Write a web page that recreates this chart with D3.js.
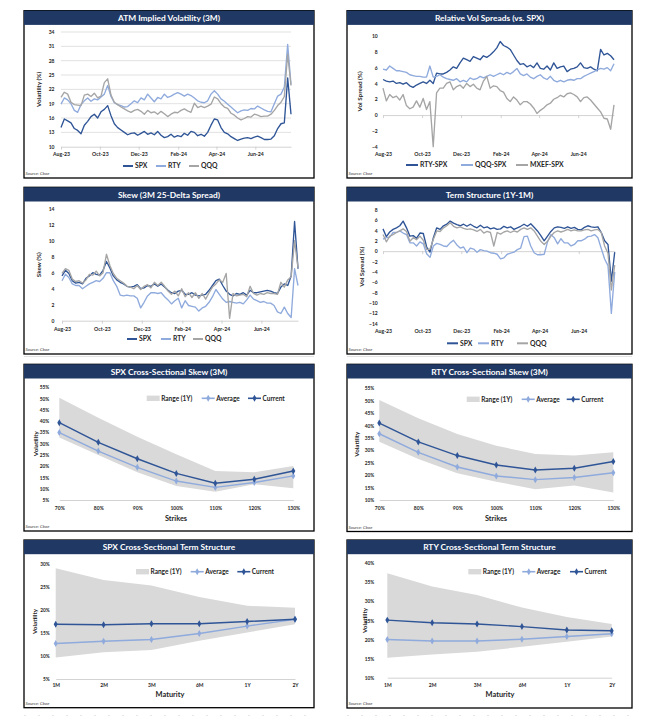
<!DOCTYPE html>
<html><head><meta charset="utf-8">
<script src="https://cdn.jsdelivr.net/npm/d3@7"></script>
<style>body{margin:0;background:#fff;} svg text{font-family:Lato,"Open Sans",sans-serif;}</style>
</head><body><script>
// ---------- DATA ----------
const tickDates = ["2023-08-01","2023-10-01","2023-12-01","2024-02-01","2024-04-01","2024-06-01"];
const dateStart = "2023-08-01", dateEnd = "2024-07-27";

const atmTicks = [10,13,16,19,22,25,28,31,34];
const atmSPX = [14.0,15.8,15.4,15.0,13.8,13.4,12.7,14.5,15.3,16.3,
16.8,16.0,17.3,17.8,18.6,16.5,14.8,14.0,13.5,13.0,
12.5,12.8,12.9,12.4,12.8,13.2,12.6,12.9,12.5,13.2,
12.4,11.9,12.1,12.6,12.0,12.3,12.1,12.8,12.4,13.2,
13.0,12.3,12.6,12.2,13.0,14.5,15.8,15.6,14.0,13.0,
12.7,12.1,11.7,11.3,11.6,11.8,11.9,11.7,12.0,12.2,
11.9,11.5,11.5,11.6,12.3,13.8,14.8,15.0,24.4,16.8];
const atmRTY = [18.9,20.2,19.8,19.0,17.6,17.2,18.8,19.6,20.2,19.5,
20.0,19.8,20.4,21.0,22.8,20.5,19.2,18.8,18.6,18.3,
18.4,19.0,19.6,19.2,20.2,19.8,21.0,20.2,19.4,20.3,
20.0,21.0,20.3,20.6,21.0,21.3,21.0,20.6,21.0,20.7,
20.2,19.6,19.3,19.2,19.6,21.0,21.7,21.0,20.0,19.5,
18.9,18.3,17.7,17.1,17.5,17.7,17.6,18.0,17.9,18.5,
18.1,17.7,17.4,17.3,19.0,20.6,21.0,22.5,31.4,23.0];
const atmQQQ = [20.3,21.4,21.0,19.3,18.8,18.7,18.6,20.8,21.0,20.5,
21.2,20.2,20.6,23.4,24.2,20.8,19.3,18.8,18.3,17.9,
17.5,17.2,17.6,17.8,17.4,16.8,17.6,17.1,17.3,16.8,
17.4,16.9,16.3,16.8,17.2,17.1,17.6,17.9,17.5,17.2,
19.1,18.2,18.5,18.2,18.5,18.9,20.4,20.0,19.0,18.3,
18.0,17.0,16.6,16.0,15.6,15.9,16.3,16.2,16.8,16.6,
16.3,16.4,16.4,16.8,17.6,18.6,19.3,20.5,29.4,22.8];

const rvTicks = [-4,-2,0,2,4,6,8,10];
const rvRTY = [4.5,4.3,4.2,4.3,4.0,4.1,3.9,4.1,3.7,3.5,
3.8,4.0,4.2,4.0,4.4,4.0,5.3,5.2,5.2,5.4,
5.7,6.1,5.9,6.6,7.2,7.0,6.8,7.4,7.2,7.0,
7.5,7.3,7.6,8.0,8.5,9.3,8.8,8.6,8.3,7.6,
6.9,6.4,6.5,6.1,6.3,6.0,6.6,5.9,5.8,6.2,
5.7,6.6,5.9,6.1,6.2,5.5,5.8,5.9,6.1,6.6,
6.0,5.9,6.1,5.8,5.6,8.3,7.6,7.8,7.5,7.0];
const rvQQQ = [5.8,5.7,6.2,5.9,5.6,5.6,5.5,5.4,5.1,5.0,
4.9,4.9,4.8,4.8,6.2,4.8,4.9,5.1,4.8,4.6,
4.5,4.4,4.6,4.2,4.4,4.2,4.7,4.5,4.6,4.9,
4.7,4.9,5.1,4.9,5.1,5.3,5.1,5.4,5.2,5.5,
5.9,5.2,5.0,5.2,4.8,4.6,4.9,5.1,4.7,4.5,
4.9,4.4,4.2,4.4,4.2,4.4,4.5,4.4,4.6,4.6,
4.9,5.1,5.3,5.5,5.7,5.9,5.8,6.0,5.6,6.5];
const rvMXEF = [3.4,1.8,2.6,2.2,2.4,1.9,2.6,1.2,0.8,1.0,
1.8,1.0,2.1,0.7,1.7,-4.0,2.8,3.4,3.4,4.0,
4.2,3.2,3.6,3.8,3.4,4.0,3.6,3.9,3.4,3.2,
4.3,4.9,3.4,3.7,3.6,3.1,2.9,2.1,1.7,2.3,
1.9,1.3,1.7,1.7,1.4,0.9,0.2,0.6,0.9,1.3,
1.5,2.0,2.2,2.5,2.3,2.7,2.8,2.6,2.3,1.7,
2.2,2.3,1.9,1.4,0.9,0.4,-0.4,-0.5,-1.8,1.3];

const skewTicks = [0,2,4,6,8,10,12,14];
const skSPX = [5.6,6.3,5.9,5.0,4.7,4.8,4.6,5.3,5.6,6.0,
5.8,5.7,6.3,7.4,6.6,5.6,5.1,4.8,4.6,4.3,
4.2,4.3,4.5,4.0,4.1,4.4,4.3,4.6,4.3,4.6,
4.2,3.8,3.5,3.4,3.7,3.8,3.3,3.3,3.5,3.2,
3.1,3.2,3.3,3.8,4.4,5.0,5.2,4.4,3.7,3.3,
3.1,3.4,3.3,3.5,3.2,3.8,3.5,3.5,3.6,3.7,
3.8,3.7,3.5,3.4,4.2,4.6,4.4,5.6,12.4,6.5];
const skRTY = [5.0,5.8,5.4,4.6,4.4,4.4,4.0,4.3,4.6,4.8,
5.0,4.9,5.3,6.0,6.0,5.0,4.3,3.2,3.1,3.2,
3.1,3.1,2.8,1.6,2.3,3.1,3.5,3.5,3.4,3.5,
3.0,2.6,2.1,2.5,2.8,1.6,2.5,1.9,1.8,1.7,
1.2,1.6,1.8,2.3,3.0,3.9,3.3,2.7,2.3,2.4,
2.3,2.2,2.3,2.1,2.6,3.2,2.7,2.5,2.3,2.4,
2.2,2.2,1.9,1.1,0.9,1.7,0.9,0.4,6.5,4.4];
const skQQQ = [5.9,6.5,6.3,5.2,4.9,5.0,4.7,5.1,5.8,5.7,
6.2,5.6,6.0,8.3,6.9,5.9,5.3,5.0,4.7,4.3,
4.2,4.0,4.4,3.9,4.3,4.5,4.1,4.8,4.4,4.8,
4.3,3.7,3.3,3.7,3.1,4.0,3.0,3.5,2.9,3.5,
2.8,3.4,2.7,3.5,4.2,4.6,5.1,4.8,5.9,0.3,
3.4,3.1,3.2,3.3,3.0,4.3,3.4,3.2,3.4,3.3,
3.5,3.4,3.4,3.3,4.8,4.2,5.1,5.5,10.0,6.6];

const termTicks = [-14,-12,-10,-8,-6,-4,-2,0,2,4,6,8];
const tsSPX = [4.3,2.8,3.7,4.2,4.5,4.9,5.8,4.5,2.9,3.0,
2.5,3.5,3.4,0.8,-0.2,2.6,4.5,4.2,4.9,5.2,
5.8,5.4,5.1,4.9,5.2,4.8,5.2,4.8,4.5,5.0,
4.5,4.7,4.3,4.5,4.2,4.3,4.8,4.5,4.7,4.2,
4.5,4.8,5.2,4.8,5.3,4.6,3.9,3.0,2.0,2.9,
3.8,4.5,4.7,4.6,4.4,4.7,4.4,4.6,4.2,4.1,
4.6,4.9,4.7,4.6,4.7,3.6,2.0,1.3,-5.8,-0.2];
const tsRTY = [2.3,2.6,2.7,3.6,3.6,3.9,3.5,3.2,1.6,1.6,
1.0,1.8,1.4,-0.5,-1.2,1.0,1.5,1.3,1.0,0.9,
1.6,2.1,1.2,0.6,0.8,-0.3,0.6,0.4,-0.2,0.3,
0.1,0.0,-0.3,-0.4,-0.6,-1.5,-1.3,-0.6,-0.4,-0.2,
0.3,0.6,2.8,2.9,1.0,-0.3,-0.7,-0.7,-0.6,1.8,
3.2,2.6,1.4,2.4,1.6,1.6,1.0,1.3,2.0,2.0,
2.3,2.8,2.9,3.2,2.6,0.5,-1.5,-2.8,-12.0,-4.0];
const tsQQQ = [3.2,1.8,2.9,3.2,3.6,3.9,4.3,3.8,1.9,2.6,
2.2,2.9,2.1,0.3,0.4,2.3,3.9,3.8,4.5,4.9,
5.5,4.8,4.5,4.7,4.4,4.2,4.3,4.1,3.8,4.2,
3.5,3.8,3.6,1.0,3.6,3.3,3.7,3.9,3.6,3.9,
3.7,4.2,4.5,4.2,4.5,3.9,2.9,1.9,1.3,1.9,
2.9,3.6,3.9,3.7,3.9,4.2,3.9,4.1,3.9,3.9,
4.1,4.2,3.9,4.1,4.2,3.6,1.0,-0.4,-7.5,-2.7];

const strikes = ["70%","80%","90%","100%","110%","120%","130%"];
const spxSkewTicks = [5,10,15,20,25,30,35,40,45,50,55];
const spxSkewHigh = [50.4,41.5,33.1,25.3,17.9,17.3,20.1];
const spxSkewLow  = [32.7,25.0,17.3,11.2,8.7,12.0,10.2];
const spxSkewAvg  = [34.9,26.7,19.5,13.4,10.6,12.8,15.7];
const spxSkewCur  = [39.3,30.6,23.3,16.8,12.4,14.2,17.9];
const rtySkewTicks = [10,15,20,25,30,35,40,45,50,55];
const rtySkewHigh = [50.3,42.9,36.6,31.9,28.5,27.9,29.2];
const rtySkewLow  = [33.5,26.5,20.8,17.4,14.3,15.8,13.0];
const rtySkewAvg  = [36.7,29.2,23.3,19.7,18.2,19.1,21.0];
const rtySkewCur  = [41.0,33.4,27.9,24.1,22.1,22.8,25.5];

const maturities = ["1M","2M","3M","6M","1Y","2Y"];
const spxTermTicks = [5,10,15,20,25,30];
const spxTermHigh = [29.1,26.5,25.3,22.8,20.9,20.5];
const spxTermLow  = [9.7,10.8,11.3,13.3,15.1,16.9];
const spxTermAvg  = [12.7,13.2,13.6,14.9,16.5,18.0];
const spxTermCur  = [16.9,16.8,17.0,17.0,17.5,18.0];
const rtyTermTicks = [10,15,20,25,30,35,40];
const rtyTermHigh = [37.4,33.9,31.7,28.4,25.9,24.1];
const rtyTermLow  = [15.2,16.1,16.8,18.1,19.4,20.8];
const rtyTermAvg  = [20.0,19.6,19.6,20.1,20.8,21.5];
const rtyTermCur  = [25.1,24.4,24.1,23.4,22.5,22.3];

// ---------- DRAWING ----------
const C = {dark:"#2F5597", light:"#8FAADC", gray:"#A5A5A5", navy:"#1F3864", band:"#D9D9D9", axis:"#C8C8C8", text:"#262626"};
const svg = d3.select("body").append("svg").attr("width",648).attr("height",722).style("display","block");
svg.append("rect").attr("width",648).attr("height",722).attr("fill","#fff");
const parse = d3.timeParse("%Y-%m-%d");
const T0 = parse(dateStart), T1 = parse(dateEnd);
const fmtDate = d3.timeFormat("%b-%y");

// separators
[[24,314],[347,632]].forEach(([a,b])=>{
  svg.append("line").attr("x1",a).attr("x2",b).attr("y1",356.5).attr("y2",356.5).attr("stroke","#e2e2e2").attr("stroke-width",1);
  svg.append("line").attr("x1",a).attr("x2",b).attr("y1",715.5).attr("y2",715.5).attr("stroke","#e6e6e6").attr("stroke-width",1).attr("stroke-dasharray","2,12");
});

function frame(x0,y0,x1,y1,title){
  svg.append("rect").attr("x",x0).attr("y",y0).attr("width",x1-x0).attr("height",y1-y0)
    .attr("fill","#fff").attr("stroke","#000").attr("stroke-width",1.3);
  svg.append("rect").attr("x",x0).attr("y",y0).attr("width",x1-x0).attr("height",14.2).attr("fill",C.navy);
  svg.append("text").attr("x",(x0+x1)/2).attr("y",y0+10.4).attr("text-anchor","middle")
    .attr("fill","#fff").attr("font-weight","bold").attr("font-size",8.4).text(title);
  svg.append("text").attr("x",x0+1.5).attr("y",y1-2.6).attr("font-size",4.4).attr("font-style","italic")
    .attr("fill","#444").text("Source: Cboe");
}

function styleTicks(sel, size){
  sel.attr("font-family",null).attr("font-size",size).attr("font-weight","bold");
  sel.selectAll("text").attr("fill",C.text);
}

function yTitle(g,x,yc,label){
  g.append("text").attr("transform",`translate(${x},${yc}) rotate(-90)`).attr("text-anchor","middle")
    .attr("dy","0.35em").attr("font-size",6.3).attr("font-weight","bold").attr("fill",C.text).text(label);
}

function timeChart(o){
  const n = o.series[0].values.length;
  const dates = d3.range(n).map(i => new Date(+T0 + (T1 - T0) * i / (n - 1)));
  const x = d3.scaleTime().domain([T0,T1]).range([o.x0,o.x1]);
  const y = d3.scaleLinear().domain(o.yDomain).range([o.yBot,o.yTop]);
  const g = svg.append("g");
  if (o.grid === "all") {
    g.selectAll(null).data(o.yTicks.slice(1)).join("line")
      .attr("x1",o.x0).attr("x2",o.x1).attr("y1",d=>y(d)).attr("y2",d=>y(d))
      .attr("stroke","#D9D9D9").attr("stroke-width",0.8);
  }
  const axisY = y(o.axisAt);
  const ax = g.append("g").attr("transform",`translate(0,${axisY})`)
    .call(d3.axisBottom(x).tickValues(tickDates.map(parse)).tickFormat(fmtDate).tickSize(3).tickSizeOuter(0));
  ax.select(".domain").attr("stroke",C.axis).attr("stroke-width",0.8);
  ax.selectAll(".tick line").attr("stroke",C.axis).attr("stroke-width",0.8);
  styleTicks(ax,5.2);
  ax.selectAll("text").attr("y", o.labelY - axisY).attr("dy","0.35em");
  const ya = g.append("g").attr("transform",`translate(${o.x0 - o.yPad},0)`)
    .call(d3.axisLeft(y).tickValues(o.yTicks).tickSize(0).tickPadding(0));
  ya.select(".domain").remove();
  styleTicks(ya,5.0);
  o.series.forEach(s => {
    g.append("path").datum(s.values).attr("fill","none").attr("stroke",s.color)
      .attr("stroke-width",1.35).attr("stroke-linejoin","round")
      .attr("d", d3.line().x((d,i)=>x(dates[i])).y(d=>y(d)));
  });
  yTitle(g,o.yTitleX,(o.yTop+o.yBot)/2,o.yTitle);
  o.series.forEach(s => {
    g.append("line").attr("x1",s.lx).attr("x2",s.lx+o.legLen).attr("y1",o.legendY).attr("y2",o.legendY)
      .attr("stroke",s.color).attr("stroke-width",2);
    g.append("text").attr("x",s.lx+o.legLen+2).attr("y",o.legendY).attr("dy","0.35em")
      .attr("font-size",6.8).attr("font-weight","bold").attr("fill",C.text).text(s.name);
  });
}

function crossChart(o){
  const x = d3.scalePoint().domain(o.cats).range([o.x0,o.x1]);
  const y = d3.scaleLinear().domain(o.yDomain).range([o.yBot,o.yTop]);
  const g = svg.append("g");
  const rows = o.cats.map((c,i)=>({c, hi:o.high[i], lo:o.low[i], avg:o.avg[i], cur:o.cur[i]}));
  g.append("path").datum(rows).attr("fill",C.band)
    .attr("d", d3.area().x(d=>x(d.c)).y0(d=>y(d.lo)).y1(d=>y(d.hi)));
  const ax = g.append("g").attr("transform",`translate(0,${o.yBot})`)
    .call(d3.axisBottom(x).tickSize(0).tickPadding(0));
  ax.select(".domain").attr("stroke",C.axis).attr("stroke-width",0.8);
  styleTicks(ax,5.0);
  ax.selectAll("text").attr("y", o.labelY - o.yBot).attr("dy","0.35em");
  const ya = g.append("g").attr("transform",`translate(${o.x0 - o.yPad},0)`)
    .call(d3.axisLeft(y).tickValues(o.yTicks).tickSize(0).tickPadding(0).tickFormat(d=>d+"%"));
  ya.select(".domain").remove();
  styleTicks(ya,4.8);
  const sym = d3.symbol(d3.symbolDiamond, 14);
  [["avg",C.light],["cur",C.dark]].forEach(([k,col])=>{
    g.append("path").datum(rows).attr("fill","none").attr("stroke",col).attr("stroke-width",1.45)
      .attr("d", d3.line().x(d=>x(d.c)).y(d=>y(d[k])));
    g.selectAll(null).data(rows).join("path")
      .attr("transform",d=>`translate(${x(d.c)},${y(d[k])})`).attr("d",sym).attr("fill",col);
  });
  yTitle(g,o.yTitleX,(o.yTop+o.yBot)/2,"Volatility");
  g.append("text").attr("x",o.xTitle[0]).attr("y",o.xTitle[1]).attr("dy","0.35em").attr("text-anchor","middle")
    .attr("font-size",7.4).attr("font-weight","bold").attr("fill",C.text).text(o.xLabel);
  // legend
  const ly = o.legendY;
  g.append("rect").attr("x",o.leg[0]).attr("y",ly-2.7).attr("width",13).attr("height",5.4).attr("fill",C.band);
  g.append("text").attr("x",o.leg[0]+14.5).attr("y",ly).attr("dy","0.35em").attr("font-size",6.5)
    .attr("font-weight","bold").attr("fill",C.text).text("Range (1Y)");
  [[o.leg[1],C.light,"Average"],[o.leg[2],C.dark,"Current"]].forEach(([lx,col,name])=>{
    g.append("line").attr("x1",lx).attr("x2",lx+13).attr("y1",ly).attr("y2",ly).attr("stroke",col).attr("stroke-width",1.6);
    g.append("path").attr("transform",`translate(${lx+6.5},${ly})`).attr("d",sym).attr("fill",col);
    g.append("text").attr("x",lx+14.5).attr("y",ly).attr("dy","0.35em").attr("font-size",6.5)
      .attr("font-weight","bold").attr("fill",C.text).text(name);
  });
}

// Panels
frame(24,10.7,314,178,"ATM Implied Volatility (3M)");
timeChart({x0:61,x1:291,yTop:32,yBot:146.7,yDomain:[10,34],yTicks:atmTicks,grid:"all",axisAt:10,labelY:154.3,
  yPad:6.5,yTitleX:39,yTitle:"Volatility (%)",legendY:166,legLen:10,
  series:[{name:"SPX",values:atmSPX,color:C.dark,lx:123},{name:"RTY",values:atmRTY,color:C.light,lx:156},{name:"QQQ",values:atmQQQ,color:C.gray,lx:189}]});

frame(347,10.7,632,178,"Relative Vol Spreads (vs. SPX)");
timeChart({x0:383,x1:614,yTop:36,yBot:146.7,yDomain:[-4,10],yTicks:rvTicks,grid:"zero",axisAt:0,labelY:154.3,
  yPad:5.3,yTitleX:360,yTitle:"Vol Spread (%)",legendY:165,legLen:12,
  series:[{name:"RTY-SPX",values:rvRTY,color:C.dark,lx:406},{name:"QQQ-SPX",values:rvQQQ,color:C.light,lx:461},{name:"MXEF-SPX",values:rvMXEF,color:C.gray,lx:516}]});

frame(24,187.3,314,354,"Skew (3M 25-Delta Spread)");
timeChart({x0:62,x1:298,yTop:208.7,yBot:320.7,yDomain:[0,14],yTicks:skewTicks,grid:"none",axisAt:0,labelY:329.3,
  yPad:7.5,yTitleX:39,yTitle:"Skew (%)",legendY:339,legLen:10,
  series:[{name:"SPX",values:skSPX,color:C.dark,lx:127},{name:"RTY",values:skRTY,color:C.light,lx:161},{name:"QQQ",values:skQQQ,color:C.gray,lx:193}]});

frame(347,187.3,632,354,"Term Structure (1Y-1M)");
timeChart({x0:383,x1:614.7,yTop:209.7,yBot:323.7,yDomain:[-14,8],yTicks:termTicks,grid:"zero",axisAt:0,labelY:330.7,
  yPad:5.3,yTitleX:362,yTitle:"Vol Spread (%)",legendY:343.3,legLen:11,
  series:[{name:"SPX",values:tsSPX,color:C.dark,lx:447},{name:"RTY",values:tsRTY,color:C.light,lx:478},{name:"QQQ",values:tsQQQ,color:C.gray,lx:517}]});

frame(24,364.3,314,531,"SPX Cross-Sectional Skew (3M)");
crossChart({x0:59.3,x1:293.3,yTop:387.3,yBot:500,yDomain:[5,55],yTicks:spxSkewTicks,yPad:10,labelY:508.3,
  cats:strikes,high:spxSkewHigh,low:spxSkewLow,avg:spxSkewAvg,cur:spxSkewCur,yTitleX:36,
  xTitle:[176,518.5],xLabel:"Strikes",legendY:398.3,leg:[146.7,201.7,248]});

frame(347,364.3,632,531.5,"RTY Cross-Sectional Skew (3M)");
crossChart({x0:379.3,x1:613.3,yTop:388.3,yBot:500,yDomain:[10,55],yTicks:rtySkewTicks,yPad:5,labelY:508.3,
  cats:strikes,high:rtySkewHigh,low:rtySkewLow,avg:rtySkewAvg,cur:rtySkewCur,yTitleX:356.7,
  xTitle:[496,518.5],xLabel:"Strikes",legendY:399.3,leg:[466.7,521.7,566.7]});

frame(24,540,314,707.7,"SPX Cross-Sectional Term Structure");
crossChart({x0:55.7,x1:295,yTop:564,yBot:679,yDomain:[5,30],yTicks:spxTermTicks,yPad:6,labelY:685.7,
  cats:maturities,high:spxTermHigh,low:spxTermLow,avg:spxTermAvg,cur:spxTermCur,yTitleX:35,
  xTitle:[170,694.3],xLabel:"Maturity",legendY:571.7,leg:[136,190.7,237.3]});

frame(347,540,632,708,"RTY Cross-Sectional Term Structure");
crossChart({x0:387.3,x1:611.7,yTop:563.3,yBot:677.7,yDomain:[10,40],yTicks:rtyTermTicks,yPad:13,labelY:685.7,
  cats:maturities,high:rtyTermHigh,low:rtyTermLow,avg:rtyTermAvg,cur:rtyTermCur,yTitleX:365,
  xTitle:[500,694.3],xLabel:"Maturity",legendY:571.7,leg:[468.3,522.3,570]});
</script></body></html>
